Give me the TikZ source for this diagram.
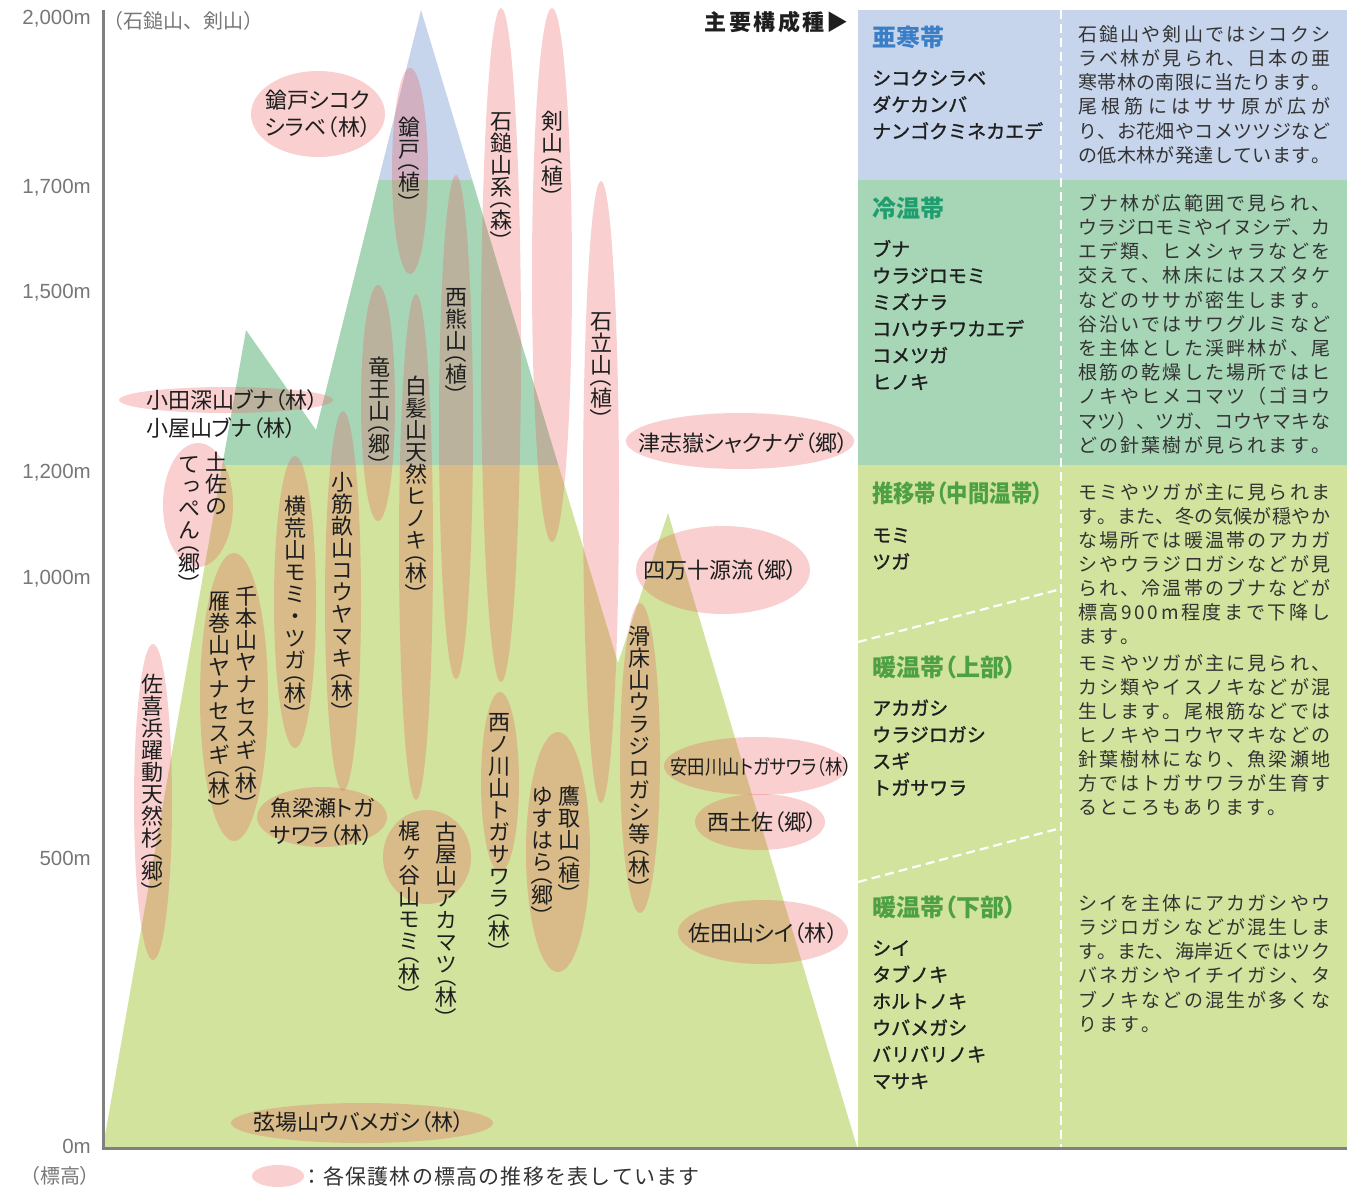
\documentclass[tikz,border=0pt]{standalone}
\usepackage{fontspec}
\usepackage{graphicx}
\setmainfont{Noto Sans CJK JP}
\newfontfamily\jp{Noto Sans CJK JP}[RawFeature=+palt]
\newfontfamily\jpv{Noto Sans CJK JP}[RawFeature=+vert]
\newfontfamily\jpm{Noto Sans CJK JP}[FakeBold=1.3]
\newfontfamily\lat{Liberation Sans}
\usetikzlibrary{shapes.geometric}
\definecolor{cblue}{HTML}{C6D4EC}
\definecolor{cgreen}{HTML}{A7D6B7}
\definecolor{cyg}{HTML}{D1E39C}
\definecolor{cpink}{RGB}{234,91,91}
\definecolor{axisgray}{HTML}{808080}
\definecolor{tgray}{HTML}{777777}
\definecolor{hblue}{HTML}{3A7EC6}
\definecolor{hteal}{HTML}{1E9E6E}
\definecolor{hgreen}{HTML}{4DA044}
\definecolor{ink}{HTML}{1E1E1E}
\definecolor{desccol}{HTML}{333333}
% vertical text: one character per cell
\newcommand\vt[1]{\vbox{\offinterlineskip\jpv\fontsize{22}{22}\selectfont\vtB#1\relax}}
\def\vtB#1{\ifx\relax#1\else\vtC#1\expandafter\vtB\fi}
\def\vtC#1{\ifx（#1\vtP{（}\else\ifx）#1\vtP{）}\else\hbox to 24pt{\hss\raisebox{0pt}[19.36pt][2.64pt]{#1}\hss}\fi\fi}
\def\vtP#1{\hbox to 24pt{\hss\rotatebox{-90}{\jp #1}\hss}}
% justified line
\newcommand\jst[1]{\hbox to 252pt{\jstA#1\relax}}
\def\jstA#1{#1\jstB}
\def\jstB#1{\ifx\relax#1\else\hfil#1\expandafter\jstB\fi}
% last (unjustified) line
\newcommand\jsl[1]{\hbox{\jslA#1\relax}}
\def\jslA#1{#1\jslB}
\def\jslB#1{\ifx\relax#1\else\kern2pt#1\expandafter\jslB\fi}
% letter-spaced line (1.2pt)
\newcommand\lsp[1]{\hbox{\lspA#1\relax}}
\def\lspA#1{#1\lspB}
\def\lspB#1{\ifx\relax#1\else\kern1.2pt#1\expandafter\lspB\fi}
\newcommand\pkell[5]{\node[pk,minimum width=#4*2pt,minimum height=#5*2pt] (#1) at (#2,#3) {};}
\begin{document}
\begin{tikzpicture}[x=1pt,y=-1pt,
  pk/.style={ellipse,fill=cpink,fill opacity=0.29,draw=none,inner sep=0pt,outer sep=0pt},
  hl/.style={inner sep=0pt,text=ink,anchor=base west,font=\jp\fontsize{22}{27}\selectfont},
  vl/.style={inner sep=0pt,text=ink,anchor=north},
  tick/.style={inner sep=0pt,text=tgray,anchor=base east,font=\lat\fontsize{20.5}{20.5}\selectfont},
  zonehead/.style={inner sep=0pt,anchor=base west,font=\jp\bfseries\fontsize{24}{24}\selectfont},
  species/.style={inner sep=0pt,anchor=base west,text=ink,font=\jpm\fontsize{19}{19}\selectfont},
  desc/.style={inner sep=0pt,anchor=base west,text=desccol,font=\fontsize{19}{19}\selectfont},
  sepline/.style={white,line width=2.2pt,dash pattern=on 9pt off 5pt},
  graytext/.style={inner sep=0pt,text=tgray,anchor=base west,font=\fontsize{20}{20}\selectfont}]
\useasboundingbox (0,0) rectangle (1370,1191);
% mountain with vegetation bands
\begin{scope}
\clip (103,1147) -- (246,330) -- (316,430) -- (421,10) -- (618,663) -- (668,513) -- (857,1147) -- cycle;
\fill[cyg] (100,465) rectangle (860,1150);
\fill[cgreen] (100,180) rectangle (860,465);
\fill[cblue] (100,0) rectangle (860,180);
\end{scope}
% table background
\fill[cblue] (858,10) rectangle (1347,180);
\fill[cgreen] (858,180) rectangle (1347,465);
\fill[cyg] (858,465) rectangle (1347,1147);
\coordinate (vs1) at (1061,10);
\coordinate (vs2) at (1061,1147);
\coordinate (d1a) at (858,642);
\coordinate (d1b) at (1061,589);
\coordinate (d2a) at (858,882);
\coordinate (d2b) at (1061,828);
\draw[sepline] (vs1) -- (vs2);
\draw[sepline] (d1a) -- (d1b);
\draw[sepline] (d2a) -- (d2b);
% axes
\coordinate (ax0) at (103,10);
\coordinate (ax1) at (103,1148);
\coordinate (ax2) at (1347,1148);
\draw[axisgray,line width=3pt] (ax0) -- (ax1) -- (ax2);
% ellipses (protected forests)
\pkell{e1}{318}{114}{67}{43}
\pkell{e2}{410}{171}{18}{103}
\pkell{e3}{501}{345}{20}{337}
\pkell{e4}{552}{275}{20}{267}
\pkell{e5}{601}{492}{18}{311}
\pkell{e6}{456}{427}{17}{252}
\pkell{e7}{378}{403}{17}{118}
\pkell{e8}{416}{547}{17}{253}
\pkell{e9}{343}{601}{18}{190}
\pkell{e10}{295}{602}{21}{146}
\pkell{e11}{198}{505}{35}{62}
\pkell{e12}{226}{400}{107}{13}
\pkell{e13}{234}{697}{34}{144}
\pkell{e14}{153}{802}{19}{158}
\pkell{e15}{322}{817}{65}{30}
\pkell{e16}{427}{857}{44}{47}
\pkell{e17}{500}{782}{19}{90}
\pkell{e18}{558}{852}{32}{120}
\pkell{e19}{640}{758}{20}{155}
\pkell{e20}{740}{441}{114}{28}
\pkell{e21}{723}{570}{87}{44}
\pkell{e22}{756}{766}{92}{29}
\pkell{e23}{760}{822}{65}{28}
\pkell{e24}{763}{932}{85}{32}
\pkell{e25}{362}{1123}{131}{20}
\pkell{lg}{278}{1176}{26}{11}
% horizontal labels
\node[hl] (t1) at (265,108.4) {\vtop{\baselineskip=27pt\hbox{鎗戸シコク}\hbox{シラベ（林）}}};
\node[hl] (t12) at (146,408.4) {小田深山ブナ（林）};
\node[hl] (t13) at (146,436.4) {小屋山ブナ（林）};
\node[hl] (t20) at (638,451.4) {津志嶽シャクナゲ（郷）};
\node[hl] (t21) at (643,578.4) {四万十源流（郷）};
\node[hl,font=\jp\fontsize{20}{20}\selectfont] (t22) at (670,774.6) {\scalebox{0.87}[1]{安田川山トガサワラ（林）}};
\node[hl] (t23) at (707,830.4) {西土佐（郷）};
\node[hl] (t24) at (688,941.4) {佐田山シイ（林）};
\node[hl] (t25) at (253,1130.4) {弦場山ウバメガシ（林）};
\node[hl] (t15) at (270,816.4) {\vtop{\baselineskip=27pt\hbox{魚梁瀬トガ}\hbox{サワラ（林）}}};
% vertical labels
\node[vl] (t2) at (409,116) {\vt{鎗戸（植）}};
\node[vl] (t3) at (501,110) {\vt{石鎚山系（森）}};
\node[vl] (t4) at (552,110) {\vt{剣山（植）}};
\node[vl] (t6) at (456,286) {\vt{西熊山（植）}};
\node[vl] (t7) at (379,356) {\vt{竜王山（郷）}};
\node[vl] (t8) at (416,375) {\vt{白髪山天然ヒノキ（林）}};
\node[vl] (t5) at (601,310) {\vt{石立山（植）}};
\node[vl] (t9) at (342,471) {\vt{小筋畝山コウヤマキ（林）}};
\node[vl] (t10) at (295,495) {\vt{横荒山モミ・ツガ（林）}};
\node[vl] (t11a) at (216,451) {\vt{土佐の}};
\node[vl] (t11b) at (189,453) {\vt{てっぺん（郷）}};
\node[vl] (t13a) at (246,585) {\vt{千本山ヤナセスギ（林）}};
\node[vl] (t13b) at (219,590) {\vt{雁巻山ヤナセスギ（林）}};
\node[vl] (t14) at (152,673) {\vt{佐喜浜躍動天然杉（郷）}};
\node[vl] (t16a) at (409,820) {\vt{梶ヶ谷山モミ（林）}};
\node[vl] (t16b) at (446,821) {\vt{古屋山アカマツ（林）}};
\node[vl] (t17) at (499,711) {\vt{西ノ川山トガサワラ（林）}};
\node[vl] (t18a) at (569,785) {\vt{鷹取山（植）}};
\node[vl] (t18b) at (542,785) {\vt{ゆすはら（郷）}};
\node[vl] (t19) at (639,625) {\vt{滑床山ウラジロガシ等（林）}};
% axis labels
\node[tick] (y2000) at (91,24.3) {2,000m};
\node[tick] (y1700) at (91,193.3) {1,700m};
\node[tick] (y1500) at (91,298.3) {1,500m};
\node[tick] (y1200) at (91,478.3) {1,200m};
\node[tick] (y1000) at (91,584.3) {1,000m};
\node[tick] (y500) at (91,865.3) {500m};
\node[tick] (y0) at (91,1153.3) {0m};
\node[graytext] (peaks) at (103,28) {（石鎚山、剣山）};
\node[graytext,font=\jp\fontsize{20}{20}\selectfont] (hyoko) at (30,1183.6) {（標高）};
\node[inner sep=0pt,anchor=base west,text=desccol,font=\fontsize{21}{21}\selectfont] (legtxt) at (301,1184) {\lsp{：各保護林の標高の推移を表しています}};
\node[inner sep=0pt,anchor=base east,text=ink,font=\bfseries\fontsize{22}{22}\selectfont] (main) at (849,30.4) {主\kern2.5pt 要\kern2.5pt 構\kern2.5pt 成\kern2.5pt 種\kern2pt▶};
% table: zone headings
\node[zonehead,text=hblue] (z1) at (872,46.1) {亜寒帯};
\node[zonehead,text=hteal] (z2) at (872,217.1) {冷温帯};
\node[zonehead,text=hgreen] (z3) at (872,502.1) {\scalebox{0.89}[1]{推移帯（中間温帯）}};
\node[zonehead,text=hgreen] (z4) at (872,676.1) {暖温帯（上部）};
\node[zonehead,text=hgreen] (z5) at (872,916.1) {暖温帯（下部）};
% species
\node[species] (s1) at (872,85.2) {\vtop{\baselineskip=26.6pt\hbox{シコクシラベ}\hbox{ダケカンバ}\hbox{ナンゴクミネカエデ}}};
\node[species] (s2) at (872,256.2) {\vtop{\baselineskip=26.6pt\hbox{ブナ}\hbox{ウラジロモミ}\hbox{ミズナラ}\hbox{コハウチワカエデ}\hbox{コメツガ}\hbox{ヒノキ}}};
\node[species] (s3) at (872,542.2) {\vtop{\baselineskip=26.6pt\hbox{モミ}\hbox{ツガ}}};
\node[species] (s4) at (872,715.2) {\vtop{\baselineskip=26.6pt\hbox{アカガシ}\hbox{ウラジロガシ}\hbox{スギ}\hbox{トガサワラ}}};
\node[species] (s5) at (872,955.2) {\vtop{\baselineskip=26.6pt\hbox{シイ}\hbox{タブノキ}\hbox{ホルトノキ}\hbox{ウバメガシ}\hbox{バリバリノキ}\hbox{マサキ}}};
% descriptions
\node[desc] (d1) at (1078,41.2) {\vtop{\baselineskip=24.2pt
\jst{石鎚山や剣山ではシコクシ}\jst{ラベ林が見られ、日本の亜}\jst{寒帯林の南限に当たります。}\jst{尾根筋にはササ原が広が}\jst{り、お花畑やコメツツジなど}\jst{の低木林が発達しています。}}};
\node[desc] (d2) at (1078,210.2) {\vtop{\baselineskip=24.2pt
\jst{ブナ林が広範囲で見られ、}\jst{ウラジロモミやイヌシデ、カ}\jst{エデ類、ヒメシャラなどを}\jst{交えて、林床にはスズタケ}\jst{などのササが密生します。}\jst{谷沿いではサワグルミなど}\jst{を主体とした渓畔林が、尾}\jst{根筋の乾燥した場所ではヒ}\jst{ノキやヒメコマツ（ゴヨウ}\jst{マツ）、ツガ、コウヤマキな}\jst{どの針葉樹が見られます。}}};
\node[desc] (d3) at (1078,499.2) {\vtop{\baselineskip=24pt
\jst{モミやツガが主に見られま}\jst{す。また、冬の気候が穏やか}\jst{な場所では暖温帯のアカガ}\jst{シやウラジロガシなどが見}\jst{られ、冷温帯のブナなどが}\jst{標高900m程度まで下降し}\jsl{ます。}}};
\node[desc] (d4) at (1078,670.2) {\vtop{\baselineskip=24pt
\jst{モミやツガが主に見られ、}\jst{カシ類やイスノキなどが混}\jst{生します。尾根筋などでは}\jst{ヒノキやコウヤマキなどの}\jst{針葉樹林になり、魚梁瀬地}\jst{方ではトガサワラが生育す}\jsl{るところもあります。}}};
\node[desc] (d5) at (1078,910.2) {\vtop{\baselineskip=24.2pt
\jst{シイを主体にアカガシやウ}\jst{ラジロガシなどが混生しま}\jst{す。また、海岸近くではツク}\jst{バネガシやイチイガシ、タ}\jst{ブノキなどの混生が多くな}\jsl{ります。}}};
\end{tikzpicture}
\end{document}
